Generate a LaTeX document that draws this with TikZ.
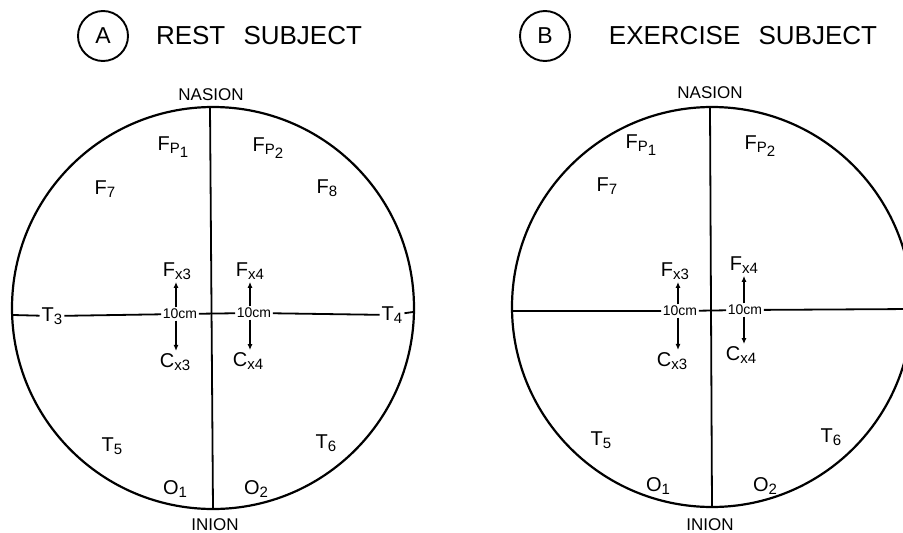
\documentclass[tikz,border=0pt]{standalone}
\usepackage{fontspec}
\setmainfont{Liberation Sans}
\usetikzlibrary{arrows.meta}
\tikzset{
  rim/.style={line width=2.2pt},
  midline/.style={line width=1.8pt},
  lbl/.style={inner sep=2pt, font=\fontsize{20}{20}\selectfont},
  landmark/.style={inner sep=1pt, font=\fontsize{17}{17}\selectfont},
  dist/.style={inner sep=1.5pt, font=\fontsize{14}{14}\selectfont},
  arr/.style={line width=1.6pt, -{Latex[length=6pt,width=5pt]}},
  title/.style={font=\fontsize{26}{26}\selectfont},
  badge/.style={draw, circle, line width=1.9pt, minimum size=50pt, inner sep=0pt,
    font=\fontsize{23}{23}\selectfont},
}
\newcommand{\el}[2]{#1\raisebox{-3.5pt}{\fontsize{15}{15}\selectfont #2}}
\begin{document}
\begin{tikzpicture}[x=1pt,y=-1pt]
    \clip (0,0) rectangle (903,533);

    % Headings
    \node[badge] (badgeA) at (103,36) {A};
    \node[title] (headA) at (259,36) {REST\hspace{0.7em}SUBJECT};
    \node[badge] (badgeB) at (545,36) {B};
    \node[title] (headB) at (743,36) {EXERCISE\hspace{0.7em}SUBJECT};

    % A: rest subject
    \draw[rim] (213,308) circle[radius=201];
    \coordinate (nasA) at (210,107);
    \coordinate (inA) at (213,509);
    \node[landmark] (nasionA) at (211,95) {NASION};
    \node[landmark] (inionA) at (215,525) {INION};
    \draw[midline] (nasA) -- (inA);

    \node[lbl] (fpA1) at (173,147) {\el{F}{P\raisebox{-4pt}{1}}};
    \node[lbl] (fpA2) at (268,148) {\el{F}{P\raisebox{-4pt}{2}}};
    \node[lbl] (f7A) at (105,189) {\el{F}{7}};
    \node[lbl] (f8A) at (327,188) {\el{F}{8}};
    \node[lbl] (fxA) at (177,271) {\el{F}{x3}};
    \node[lbl] (fyA) at (250,271) {\el{F}{x4}};
    \node[dist] (tenA) at (180,314) {10cm};
    \node[dist] (tenB) at (254,313) {10cm};
    \node[lbl] (cxA) at (175,362) {\el{C}{x3}};
    \node[lbl] (cyA) at (248,361) {\el{C}{x4}};
    \node[lbl] (t3A) at (52,316) {\el{T}{3}};
    \node[lbl] (t4A) at (392,315) {\el{T}{4}};
    \node[lbl] (t5A) at (112,446) {\el{T}{5}};
    \node[lbl] (t6A) at (326,443) {\el{T}{6}};
    \node[lbl] (o1A) at (175,489) {\el{O}{1}};
    \node[lbl] (o2A) at (256,489) {\el{O}{2}};

    \coordinate (wA) at (13,315);
    \coordinate (eA) at (413,312);
    \draw[midline] (wA) -- (t3A) -- (tenA) -- (tenB) -- (t4A) -- (eA);
    \coordinate (aA) at (176,0);
    \coordinate (aB) at (250,0);
    \draw[arr] (aA |- tenA.north) -- (aA |- fxA.south);
    \draw[arr] (aA |- tenA.south) -- (aA |- cxA.north);
    \draw[arr] (aB |- tenB.north) -- (aB |- fyA.south);
    \draw[arr] (aB |- tenB.south) -- (aB |- cyA.north);

    % B: exercise subject
    \draw[rim] (712,307) circle[radius=200];
    \coordinate (nasB) at (710,107);
    \coordinate (inB) at (712,507);
    \node[landmark] (nasionB) at (710,93) {NASION};
    \node[landmark] (inionB) at (710,525) {INION};
    \draw[midline] (nasB) -- (inB);

    \node[lbl] (fpB1) at (641,145) {\el{F}{P\raisebox{-4pt}{1}}};
    \node[lbl] (fpB2) at (760,146) {\el{F}{P\raisebox{-4pt}{2}}};
    \node[lbl] (f7B) at (607,186) {\el{F}{7}};
    \node[lbl] (fxB) at (675,271) {\el{F}{x3}};
    \node[lbl] (fyB) at (744,265) {\el{F}{x4}};
    \node[dist] (tenC) at (680,311) {10cm};
    \node[dist] (tenD) at (745,310) {10cm};
    \node[lbl] (cxB) at (672,361) {\el{C}{x3}};
    \node[lbl] (cyB) at (741,355) {\el{C}{x4}};
    \node[lbl] (t5B) at (601,440) {\el{T}{5}};
    \node[lbl] (t6B) at (831,437) {\el{T}{6}};
    \node[lbl] (o1B) at (658,486) {\el{O}{1}};
    \node[lbl] (o2B) at (765,486) {\el{O}{2}};

    \coordinate (wB) at (513,311);
    \coordinate (eB) at (912,309);
    \draw[midline] (wB) -- (tenC) -- (tenD) -- (eB);
    \coordinate (aC) at (678,0);
    \coordinate (aD) at (744,0);
    \draw[arr] (aC |- tenC.north) -- (aC |- fxB.south);
    \draw[arr] (aC |- tenC.south) -- (aC |- cxB.north);
    \draw[arr] (aD |- tenD.north) -- (aD |- fyB.south);
    \draw[arr] (aD |- tenD.south) -- (aD |- cyB.north);
\end{tikzpicture}
\end{document}
